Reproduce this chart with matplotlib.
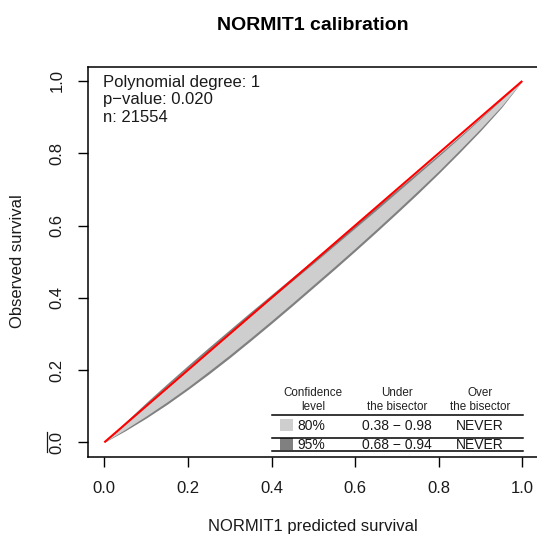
import matplotlib
matplotlib.use("Agg")
import matplotlib.pyplot as plt
from matplotlib.patches import Rectangle
from matplotlib.lines import Line2D

plt.rcParams['font.family'] = ['Liberation Sans', 'DejaVu Sans']

# ---- data ----
pred = [0.00, 0.05, 0.10, 0.15, 0.20, 0.25, 0.30, 0.35, 0.40, 0.45, 0.50,
        0.55, 0.60, 0.65, 0.70, 0.75, 0.80, 0.85, 0.90, 0.95, 1.00]
lower95 = [0.000, 0.032, 0.067, 0.105, 0.146, 0.189, 0.234, 0.281, 0.329, 0.378, 0.428,
           0.478, 0.529, 0.581, 0.634, 0.688, 0.744, 0.802, 0.862, 0.926, 1.000]
upper95 = [0.000, 0.056, 0.110, 0.162, 0.213, 0.263, 0.312, 0.361, 0.409, 0.457, 0.505,
           0.553, 0.602, 0.651, 0.699, 0.748, 0.797, 0.847, 0.898, 0.950, 1.000]
lower80 = [0.000, 0.036, 0.073, 0.112, 0.153, 0.197, 0.242, 0.289, 0.337, 0.386, 0.436,
           0.486, 0.537, 0.589, 0.642, 0.696, 0.751, 0.809, 0.868, 0.930, 1.000]
upper80 = [0.000, 0.053, 0.105, 0.156, 0.206, 0.255, 0.303, 0.351, 0.399, 0.447, 0.495,
           0.544, 0.593, 0.642, 0.692, 0.742, 0.792, 0.843, 0.895, 0.948, 1.000]
bisector = [0.0, 1.0]
ticks = [0.0, 0.2, 0.4, 0.6, 0.8, 1.0]
tick_labels = ["0.0", "0.2", "0.4", "0.6", "0.8", "1.0"]

info_lines = ["Polynomial degree: 1", "p\u2212value: 0.020", "n: 21554"]
table_header = [("Confidence", "level"), ("Under", "the bisector"), ("Over", "the bisector")]
table_levels = ["80%", "95%"]
table_under = ["0.38 \u2212 0.98", "0.68 \u2212 0.94"]
table_over = ["NEVER", "NEVER"]

col80 = "#CECECE"
col95 = "#808080"

W, H = 537, 535
fig = plt.figure(figsize=(W / 100, H / 100), dpi=100)

def fx(px):
    return px / W

def fy(py):
    return 1 - py / H

left, right, top, bottom = 87.6, 539.0, 66.5, 456.8
ax = fig.add_axes([fx(left), fy(bottom), (right - left) / W, (bottom - top) / H])
ax.set_xlim(-0.04, 1.04)
ax.set_ylim(-0.04, 1.04)
ax.fill_between(pred, lower95, upper95, color=col95, lw=0)
ax.fill_between(pred, lower80, upper80, color=col80, lw=0)
ax.plot(bisector, bisector, color="red", lw=1.5, solid_capstyle="butt")

for s in ax.spines.values():
    s.set_linewidth(1.1)
    s.set_color("black")
ax.spines['right'].set_visible(False)
ax.set_xticks(ticks)
ax.set_xticklabels(tick_labels)
ax.set_yticks(ticks)
ax.set_yticklabels(tick_labels)
ax.tick_params(axis='x', length=7.2, width=1.0, pad=10.5, labelsize=12, colors="black")
ax.tick_params(axis='y', length=7.2, width=1.0, pad=9.4, labelsize=12, colors="black")
plt.setp(ax.get_yticklabels(), rotation=90, va="center")
for lab in ax.get_xticklabels() + ax.get_yticklabels():
    lab.set_color("#1a1a1a")

# small stray mark beside the 0.0 label in the reference
fig.add_artist(Line2D([fx(47), fx(47)], [fy(432), fy(452)],
                      transform=fig.transFigure, color="#1a1a1a", lw=0.9))

# titles
fig.text(fx(313.3), fy(25), "NORMIT1 calibration", ha="center", va="center",
         fontsize=14, fontweight="bold", color="black")
fig.text(fx(313.3), fy(531), "NORMIT1 predicted survival", ha="center", va="baseline",
         fontsize=12, color="#1a1a1a")
fig.text(fx(17.5), fy(261.6), "Observed survival", ha="center", va="center",
         rotation=90, fontsize=12, color="#1a1a1a")

# info text
for i, t in enumerate(info_lines):
    fig.text(fx(103), fy(86.7 + 17.5 * i), t, ha="left", va="baseline",
             fontsize=12, color="#1a1a1a")

# table
col_x = [313, 397, 480]
for cx, (l1, l2) in zip(col_x, table_header):
    fig.text(fx(cx), fy(396), l1, ha="center", va="baseline", fontsize=8.4, color="#222222")
    fig.text(fx(cx), fy(410), l2, ha="center", va="baseline", fontsize=8.4, color="#222222")

for yline in [415.0, 437.7, 451.0]:
    fig.add_artist(Line2D([fx(271.7), fx(523)], [fy(yline), fy(yline)],
                          transform=fig.transFigure, color="black", lw=1.1))

row_base = [430.0, 449.0]
sq_top = [419.0, 438.0]
sq_cols = [col80, col95]
for i in range(2):
    fig.add_artist(Rectangle((fx(280), fy(sq_top[i] + 12)), 13 / W, 12 / H,
                             transform=fig.transFigure, color=sq_cols[i], lw=0))
    fig.text(fx(297), fy(row_base[i]), table_levels[i], ha="left", va="baseline",
             fontsize=10, color="#1a1a1a")
    fig.text(fx(col_x[1]), fy(row_base[i]), table_under[i], ha="center", va="baseline",
             fontsize=10, color="#1a1a1a")
    fig.text(fx(col_x[2]), fy(row_base[i]), table_over[i], ha="center", va="baseline",
             fontsize=10, color="#1a1a1a")

fig.savefig("out.png", dpi=100)
